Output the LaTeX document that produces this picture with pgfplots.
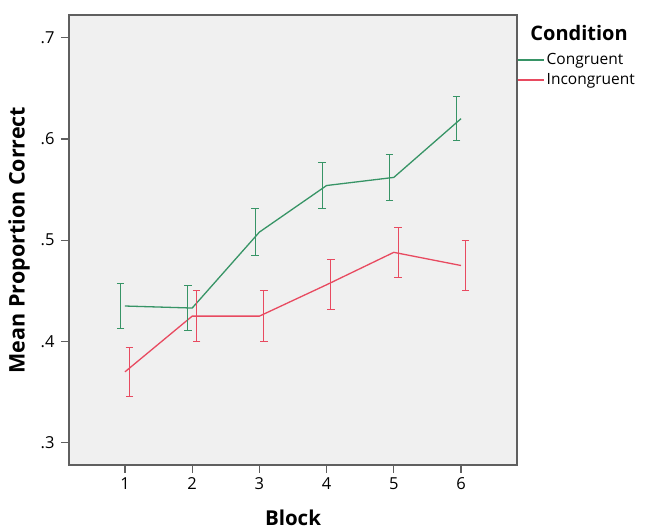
\documentclass[border=0pt]{standalone}
\usepackage{pgfplots}
\pgfplotsset{compat=1.18}
\usepackage{pgfplotstable}
\usepackage{fontspec}
\setmainfont{Open Sans}

\definecolor{cgreen}{RGB}{55,148,102}
\definecolor{cred}{RGB}{232,74,96}
\definecolor{plotbg}{RGB}{240,240,240}
\definecolor{frame}{RGB}{95,95,95}

% block, mean, half-width of error bar
\pgfplotstableread{
x y err
1 0.435 0.0225
2 0.433 0.0225
3 0.508 0.0230
4 0.554 0.0225
5 0.562 0.0225
6 0.620 0.0215
}\congruent
\pgfplotstableread{
x y err
1 0.370 0.0240
2 0.425 0.0250
3 0.425 0.0250
4 0.456 0.0245
5 0.488 0.0245
6 0.475 0.0250
}\incongruent

\begin{document}
\begin{tikzpicture}
\begin{axis}[
  width=448pt, height=450pt,
  scale only axis,
  xmin=0.167, xmax=6.833,
  ymin=0.278, ymax=0.7224,
  xtick={1,2,3,4,5,6},
  ytick={0.3,0.4,0.5,0.6,0.7},
  yticklabels={.3,.4,.5,.6,.7},
  tick align=outside,
  tick pos=left,
  major tick length=8pt,
  every tick/.style={frame, line width=1.2pt},
  axis line style={frame, line width=1.5pt},
  axis background/.style={fill=plotbg},
  tick label style={font=\fontsize{16.5}{18}\selectfont},
  yticklabel style={xshift=-3pt},
  xticklabel style={yshift=-1pt},
  /pgf/number format/assume math mode=true,
  xlabel={\textbf{Block}},
  ylabel={\textbf{Mean Proportion Correct}},
  every axis x label/.style={at={(rel axis cs:0.5,0)}, yshift=-53pt, anchor=center,
    font=\fontsize{20.5}{22}\selectfont},
  every axis y label/.style={at={(rel axis cs:0,0.5)}, xshift=-50pt, rotate=90, anchor=center,
    font=\fontsize{21.5}{23}\selectfont},
  legend style={at={(1.0,0.878)}, anchor=west, draw=none, fill=none,
    font=\fontsize{15.5}{17}\selectfont, row sep=3pt, inner sep=0pt,
    /tikz/every even column/.append style={column sep=7pt}},
  legend cell align=left,
  legend image code/.code={\draw[#1, line width=1.5pt] (2pt,0pt) -- (28pt,0pt);},
  clip=false,
]
\addplot[cgreen, line width=1.3pt] table[x=x, y=y] {\congruent};
\addlegendentry{Congruent}
\addplot[cred, line width=1.3pt] table[x=x, y=y] {\incongruent};
\addlegendentry{Incongruent}

\addplot[forget plot, draw=none, mark=none,
  error bars/.cd, y dir=both, y explicit,
  error bar style={draw=cgreen, line width=1pt},
  error mark options={draw=cgreen, line width=1pt, mark size=3.8pt, rotate=90}]
  table[x expr=\thisrow{x}-0.065, y=y, y error=err] {\congruent};
\addplot[forget plot, draw=none, mark=none,
  error bars/.cd, y dir=both, y explicit,
  error bar style={draw=cred, line width=1pt},
  error mark options={draw=cred, line width=1pt, mark size=3.8pt, rotate=90}]
  table[x expr=\thisrow{x}+0.065, y=y, y error=err] {\incongruent};

\node[anchor=west, font=\fontsize{20}{22}\selectfont\bfseries]
  at (rel axis cs:1.022,0.96) {Condition};
% page margins as in the reference
\path (rel axis cs:0,0) ++(-69pt,-63pt);
\path (rel axis cs:1,1) ++(129pt,15pt);
\end{axis}
\end{tikzpicture}
\end{document}
